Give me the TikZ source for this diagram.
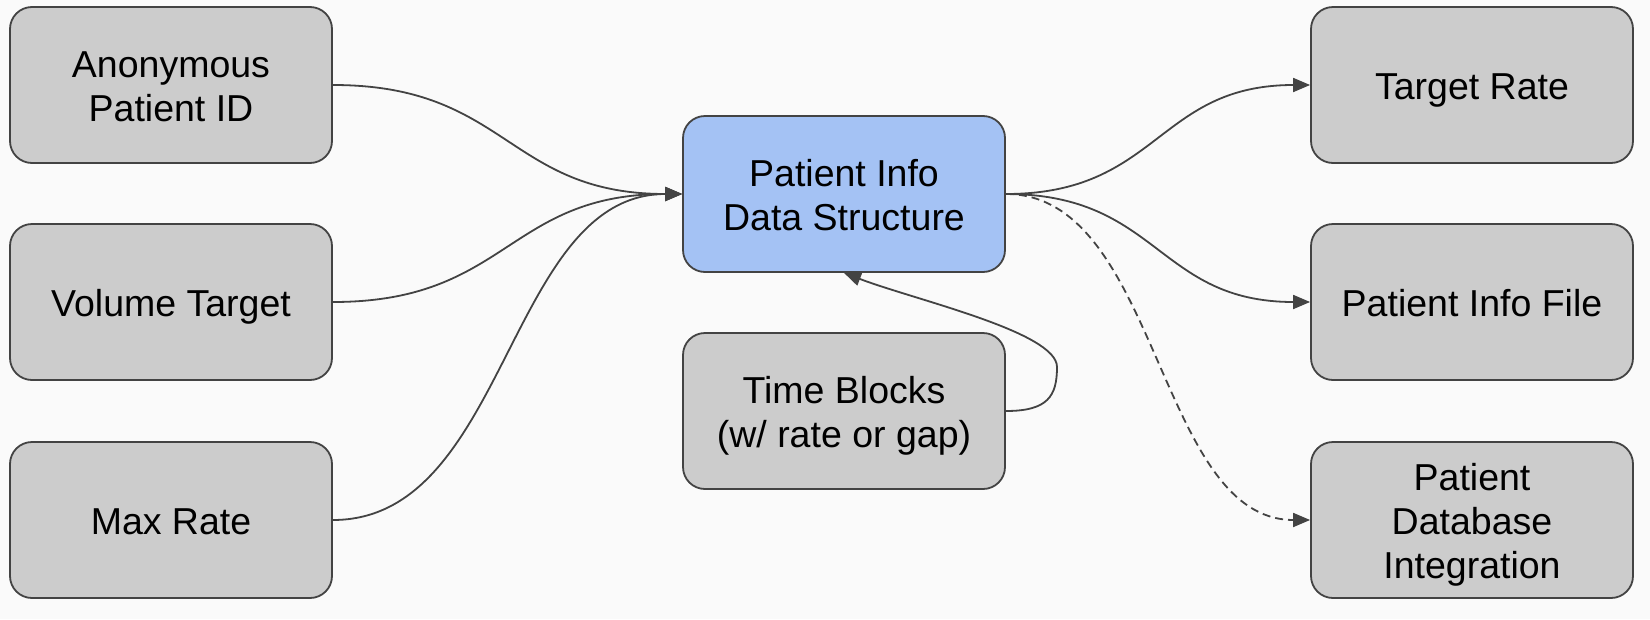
\documentclass[tikz,border=0pt]{standalone}
\usepackage{fontspec}
\setmainfont{Liberation Sans}
\usetikzlibrary{arrows.meta}
\definecolor{bg}{HTML}{FAFAFA}
\definecolor{boxgray}{HTML}{CCCCCC}
\definecolor{boxblue}{HTML}{A4C2F4}
\definecolor{linecol}{HTML}{434343}
\newcommand{\myst}{\rule[-8pt]{0pt}{44pt}}
\tikzset{
  box/.style={draw=linecol, line width=1.8pt, fill=boxgray, rounded corners=22pt,
    minimum width=322pt, minimum height=156pt, inner sep=0pt, align=center,
    font=\fontsize{37.5}{44}\selectfont, text=black},
  bluebox/.style={box, fill=boxblue},
  conn/.style={draw=linecol, line width=1.8pt, -{Triangle[length=17pt,width=14pt]}},
  dconn/.style={conn, dash pattern=on 8pt off 5pt},
}
\begin{document}
\begin{tikzpicture}[x=1pt,y=-1pt]
\fill[bg] (0,0) rectangle (1650,619);
\useasboundingbox (0,0) rectangle (1650,619);
\node[box] (anon) at (171,85) {\myst Anonymous\\\myst Patient ID};
\node[box] (vol) at (171,302) {\myst Volume Target};
\node[box] (max) at (171,520) {\myst Max Rate};
\node[bluebox] (ds) at (844,194) {\myst Patient Info\\\myst Data Structure};
\node[box] (tb) at (844,411) {\myst Time Blocks\\\myst (w/ rate or gap)};
\node[box] (tr) at (1472,85) {\myst Target Rate};
\node[box] (pif) at (1472,302) {\myst Patient Info File};
\node[box] (db) at (1472,520) {\myst Patient\\\myst Database\\\myst Integration};
\coordinate (loop) at (1057,367);
\draw[conn] (anon.east) .. controls +(175,0) and +(-175,0) .. (ds.west);
\draw[conn] (vol.east) .. controls +(175,0) and +(-175,0) .. (ds.west);
\draw[conn] (max.east) .. controls +(175,0) and +(-175,0) .. (ds.west);
\draw[conn] (ds.east) .. controls +(153,0) and +(-153,0) .. (tr.west);
\draw[conn] (ds.east) .. controls +(153,0) and +(-153,0) .. (pif.west);
\draw[dconn] (ds.east) .. controls +(153,0) and +(-153,0) .. (db.west);
\draw[conn] (tb.east) .. controls +(42,0) and (1057,396) .. (loop)
  .. controls (1057,332) and (915,300) .. (ds.south);
\end{tikzpicture}
\end{document}
